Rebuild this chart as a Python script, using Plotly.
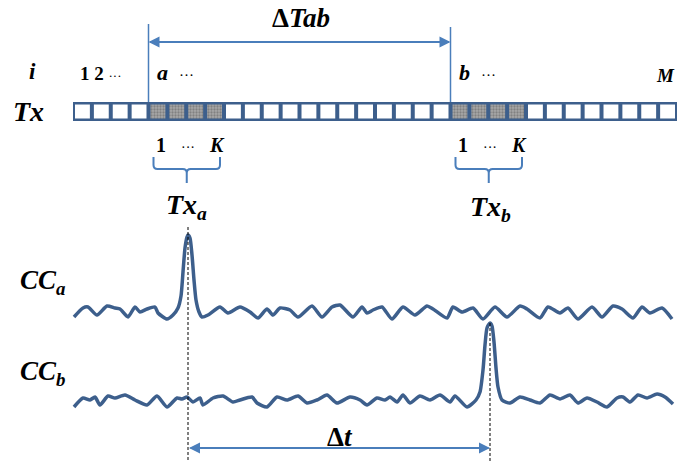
import plotly.graph_objects as go

# ---- data -------------------------------------------------------------
n_cells = 32                      # transmission slots 1..M
a_start, b_start, k_len = 4, 20, 4  # slot index of a and b, block length K

# cross-correlation traces (x = time position, y = drawing level, axis reversed)
cc_a_x = [74, 83, 88, 97, 107, 115, 120, 128, 135, 140, 147, 155, 158, 167, 173, 178,
          181, 183, 185, 187, 188, 190, 192, 194, 196, 199, 202, 208, 220, 228, 240, 250,
          258, 267, 273, 280, 290, 298, 312, 322, 332, 340, 353, 362, 367, 373, 382, 392,
          403, 415, 427, 433, 447, 453, 462, 473, 483, 495, 507, 520, 527, 540, 548, 560,
          568, 578, 592, 602, 613, 622, 633, 642, 650, 662, 672]
cc_a_y = [317, 308, 307, 315, 306, 308, 309, 317, 307, 312, 309, 307, 313, 319, 315, 308,
          296, 272, 248, 237, 235, 238, 255, 280, 300, 312, 317, 315, 307, 313, 307, 312,
          318, 309, 315, 308, 310, 317, 306, 317, 307, 305, 317, 307, 313, 310, 307, 319,
          307, 315, 306, 309, 318, 307, 312, 308, 319, 307, 317, 306, 309, 318, 307, 313,
          308, 319, 307, 317, 306, 309, 318, 307, 313, 308, 319]

cc_b_x = [74, 83, 90, 95, 100, 108, 115, 125, 135, 147, 157, 167, 177, 182, 187, 193,
          200, 203, 213, 223, 233, 240, 252, 257, 267, 277, 287, 298, 307, 317, 327, 337,
          350, 360, 367, 377, 385, 390, 397, 403, 410, 420, 430, 440, 450, 455, 467, 476,
          480, 483, 485, 487, 490, 492, 494, 496, 498, 502, 510, 520, 530, 540, 550, 560,
          570, 578, 587, 597, 607, 617, 623, 630, 638, 647, 657, 665, 673]
cc_b_y = [407, 398, 400, 397, 405, 396, 398, 395, 400, 405, 396, 407, 398, 399, 397, 402,
          398, 405, 398, 396, 402, 400, 397, 403, 407, 397, 400, 396, 403, 400, 395, 403,
          397, 400, 405, 398, 400, 397, 402, 395, 403, 396, 400, 395, 402, 396, 407, 400,
          392, 370, 345, 328, 323, 326, 342, 368, 387, 400, 403, 397, 400, 403, 395, 399,
          395, 403, 398, 402, 407, 398, 397, 402, 395, 398, 394, 397, 404]

# ---- layout constants -----------------------------------------------------
W, H = 678, 461
bar_x0, bar_x1, bar_y0, bar_y1 = 73, 677, 102, 121
pitch = (bar_x1 - bar_x0) / n_cells
line_col = "#3d5f8c"
arrow_col = "#4a7ebb"
txt_font = dict(family="Liberation Serif", color="black")

fig = go.Figure()

# slot cells as bars inside the dark frame
centers = [bar_x0 + pitch * (i + 0.5) for i in range(n_cells)]
shaded = set(range(a_start, a_start + k_len)) | set(range(b_start, b_start + k_len))
plain_x = [c for i, c in enumerate(centers) if i not in shaded]
shade_x = [c for i, c in enumerate(centers) if i in shaded]
cell_top, cell_h = bar_y0 + 2.5, (bar_y1 - bar_y0) - 5
fig.add_trace(go.Bar(x=plain_x, y=[cell_h] * len(plain_x), base=cell_top, width=pitch - 4,
                     marker=dict(color="white", line=dict(width=0)), hoverinfo="skip"))
fig.add_trace(go.Bar(x=shade_x, y=[cell_h] * len(shade_x), base=cell_top, width=pitch - 4,
                     marker=dict(color="#9a9a9a", line=dict(width=0),
                                 pattern=dict(shape=".", fgcolor="#5a5a5a", bgcolor="#a8a8a8",
                                              size=3, solidity=0.45)),
                     hoverinfo="skip"))

# correlation curves
for xs, ys in ((cc_a_x, cc_a_y), (cc_b_x, cc_b_y)):
    fig.add_trace(go.Scatter(x=xs, y=ys, mode="lines",
                             line=dict(color=line_col, width=3.5, shape="spline", smoothing=0.6),
                             hoverinfo="skip"))

shapes = []
# dark frame of the slot bar (drawn below the cells)
shapes.append(dict(type="rect", xref="x", yref="y", x0=bar_x0, x1=bar_x1, y0=bar_y0, y1=bar_y1,
                   fillcolor=line_col, line=dict(width=0), layer="below"))
# markers of slots a and b
xa = bar_x0 + pitch * a_start
xb = bar_x0 + pitch * b_start
shapes.append(dict(type="line", x0=xa, x1=xa, y0=24, y1=bar_y0, line=dict(color=arrow_col, width=1.5)))
shapes.append(dict(type="line", x0=xb, x1=xb, y0=27, y1=bar_y0, line=dict(color=arrow_col, width=1.5)))

# braces below the K-blocks
def brace(x0, x1, top=157, mid=169, bottom=183, r=4):
    c = (x0 + x1) / 2
    return (f"M {x0} {top} L {x0} {mid - r} Q {x0} {mid} {x0 + r} {mid} L {c - r} {mid} "
            f"Q {c} {mid} {c} {mid + r} L {c} {bottom} M {c} {mid + r} Q {c} {mid} {c + r} {mid} "
            f"L {x1 - r} {mid} Q {x1} {mid} {x1} {mid - r} L {x1} {top}")

shapes.append(dict(type="path", path=brace(xa + 5, xa + pitch * k_len - 4), line=dict(color=arrow_col, width=2)))
shapes.append(dict(type="path", path=brace(xb + 5, xb + pitch * k_len - 4), line=dict(color=arrow_col, width=2)))

# dashed guides through the correlation peaks
pa = cc_a_x[cc_a_y.index(min(cc_a_y))]
pb = cc_b_x[cc_b_y.index(min(cc_b_y))]
guide = dict(color="black", width=1, dash="3px,2px")
shapes.append(dict(type="line", x0=pa, x1=pa, y0=min(cc_a_y) - 8, y1=H, line=guide))
shapes.append(dict(type="line", x0=pb, x1=pb, y0=min(cc_b_y), y1=H, line=guide))

ann = []
def text(x, y, s, size, xanchor="center"):
    ann.append(dict(x=x, y=y, text=s, showarrow=False, xanchor=xanchor, yanchor="middle",
                    font=dict(size=size, **txt_font)))

def dbl_arrow(x0, x1, y):
    for xs, xt in ((x0, x1), (x1, x0)):
        ann.append(dict(x=xt, y=y, ax=xs, ay=y, axref="x", ayref="y", xref="x", yref="y",
                        text="", showarrow=True, arrowhead=2, arrowsize=1.1, arrowwidth=2,
                        arrowcolor=arrow_col, standoff=0))

dbl_arrow(xa, xb, 42)
dbl_arrow(pa + 1, pb, 448)

text(301, 18, "<b>Δ<i>Tab</i></b>", 27)
text(32, 71, "<b><i>i</i></b>", 23)
text(28, 111, "<b><i>Tx</i></b>", 28)
text(78, 73, "<b>1 2</b> <span style='font-size:13px'>···</span>", 19, "left")
text(xa + 6, 72, "<b><i>a</i></b>  <span style='font-size:15px'>···</span>", 22, "left")
text(xb + 6, 72, "<b><i>b</i></b>  <span style='font-size:15px'>···</span>", 22, "left")
text(677, 75, "<b><i>M</i></b>", 19, "right")
text(xa + 5, 145, "<b>1</b>   <span style='font-size:14px'>···</span>   <b><i>K</i></b>", 20, "left")
text(xb + 5, 145, "<b>1</b>   <span style='font-size:14px'>···</span>   <b><i>K</i></b>", 20, "left")
text(xa + 38, 206, "<b><i>Tx<sub>a</sub></i></b>", 28)
text(xb + 40, 208, "<b><i>Tx<sub>b</sub></i></b>", 28)
text(42, 282, "<b><i>CC<sub>a</sub></i></b>", 27)
text(42, 373, "<b><i>CC<sub>b</sub></i></b>", 27)
text(340, 437, "<b>Δ<i>t</i></b>", 27)

fig.update_layout(
    width=W, height=H, margin=dict(l=0, r=0, t=0, b=0),
    paper_bgcolor="white", plot_bgcolor="white", showlegend=False,
    barmode="overlay",
    xaxis=dict(range=[0, W], visible=False, fixedrange=True),
    yaxis=dict(range=[H, 0], visible=False, fixedrange=True),
    shapes=shapes, annotations=ann,
)
fig.write_html("out.html")
